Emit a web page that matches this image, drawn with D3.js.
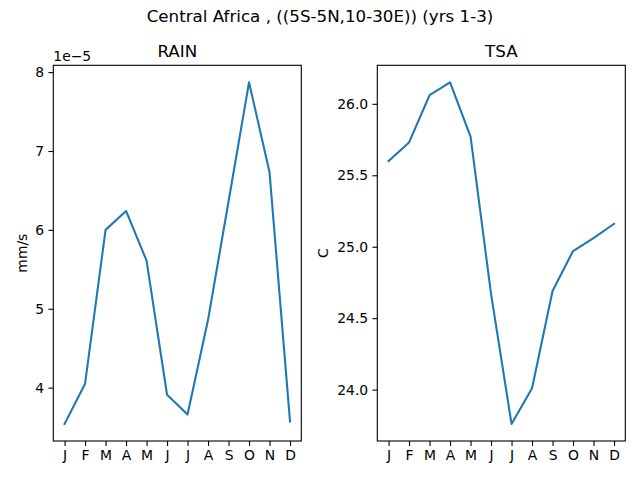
<!DOCTYPE html>
<html>
<head>
<meta charset="utf-8">
<style>
  body { margin: 0; background: #fff; }
  svg { display: block; font-family: "DejaVu Sans", sans-serif; }
</style>
</head>
<body>
<svg id="chart" width="640" height="480"></svg>
<script src="https://d3js.org/d3.v7.min.js"></script>
<script>
// monthly values
const months = ['J', 'F', 'M', 'A', 'M', 'J', 'J', 'A', 'S', 'O', 'N', 'D']
const rain = [3.54e-5, 4.05e-5, 6.00e-5, 6.24e-5, 5.61e-5, 3.91e-5, 3.66e-5, 4.86e-5, 6.36e-5, 7.87e-5, 6.73e-5, 3.57e-5]
const tsa = [25.60, 25.73, 26.06, 26.15, 25.77, 24.67, 23.76, 24.01, 24.69, 24.97, 25.06, 25.16]
const rainTicks = [4e-5, 5e-5, 6e-5, 7e-5, 8e-5]
const tsaTicks = [24.0, 24.5, 25.0, 25.5, 26.0]

const svg = d3.select('#chart')
const blue = '#1f77b4'
const axTop = 65.3, axBottom = 441

svg.append('text').attr('x', 320).attr('y', 22).attr('text-anchor', 'middle')
  .attr('font-size', '16.7px').text('Central Africa , ((5S-5N,10-30E)) (yrs 1-3)')

function panel(left, right, values, ticks, fmt, title, unit, unitX) {
  const x = d3.scaleLinear().domain([-0.55, 11.55]).range([left, right])
  const ext = d3.extent(values), pad = (ext[1] - ext[0]) * 0.05
  const y = d3.scaleLinear().domain([ext[0] - pad, ext[1] + pad]).range([axBottom, axTop])
  const g = svg.append('g')

  const xAxis = g.append('g').attr('transform', `translate(0,${axBottom})`)
    .call(d3.axisBottom(x).tickValues(d3.range(12)).tickFormat(i => months[i])
      .tickSize(4.9).tickPadding(4.2))
  const yAxis = g.append('g').attr('transform', `translate(${left},0)`)
    .call(d3.axisLeft(y).tickValues(ticks).tickFormat(fmt).tickSize(4.9).tickPadding(4.2))
  ;[xAxis, yAxis].forEach(a => {
    a.select('.domain').remove()
    a.selectAll('text').attr('font-size', '13.9px').attr('fill', '#000')
      .attr('font-family', '"DejaVu Sans", sans-serif')
    a.selectAll('line').attr('stroke', '#000').attr('stroke-width', 1.1)
  })

  g.append('path').datum(values)
    .attr('d', d3.line().x((d, i) => x(i)).y(d => y(d)))
    .attr('fill', 'none').attr('stroke', blue).attr('stroke-width', 2.08)
    .attr('stroke-linejoin', 'round').attr('stroke-linecap', 'square')

  g.append('rect').attr('x', left).attr('y', axTop)
    .attr('width', right - left).attr('height', axBottom - axTop)
    .attr('fill', 'none').attr('stroke', '#000').attr('stroke-width', 1.1)

  g.append('text').attr('x', (left + right) / 2).attr('y', axTop - 8.5)
    .attr('text-anchor', 'middle').attr('font-size', '16.7px').text(title)

  g.append('text').attr('transform', `translate(${unitX},${(axTop + axBottom) / 2}) rotate(-90)`)
    .attr('text-anchor', 'middle').attr('font-size', '13.9px').text(unit)
}

panel(53.3, 301.3, rain, rainTicks, d => d3.format('d')(Math.round(d / 1e-5)), 'RAIN', 'mm/s', 27)
panel(377.3, 625.3, tsa, tsaTicks, d3.format('.1f'), 'TSA', 'C', 328)

svg.append('text').attr('x', 53.3).attr('y', 61).attr('font-size', '13.9px').text('1e\u22125')
</script>
</body>
</html>
